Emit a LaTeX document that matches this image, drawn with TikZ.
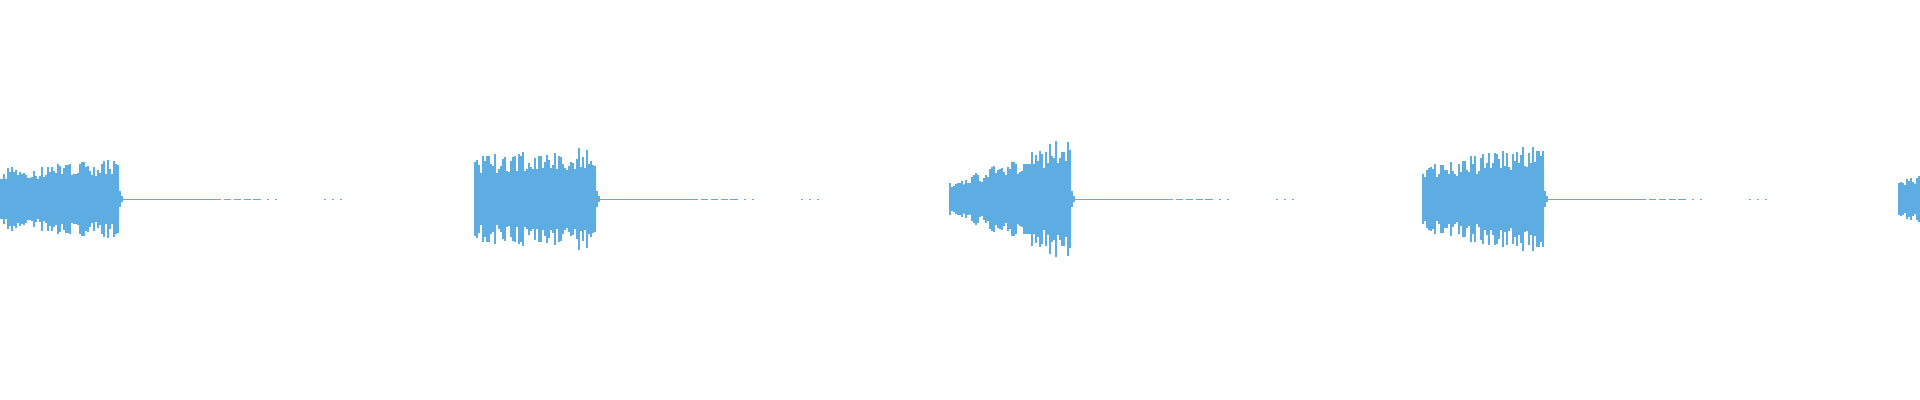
\documentclass[tikz,border=0pt]{standalone}
\usepackage{tikz}
\definecolor{wavecol}{RGB}{93,173,226}
\tikzset{
	wave/.style={wavecol,line width=0.3pt},
	wavetail/.style={wavecol,line width=0.2pt}
}
\begin{document}
\begin{tikzpicture}[x=0.01cm,y=0.01cm]
	\def\mid{201};
	\def\wid{121};
\useasboundingbox (0,0) rectangle (1920,400);
\clip (0,0) rectangle (1920,400);
\pgfmathsetseed{7}

%Bursts: start / amplitude at start / amplitude at end
\foreach \s/\a/\b in {-2/30/38, 475/42/50, 950/16/62, 1423/32/54, 1899/22/26} {
	% solid core
	\fill[wavecol] plot[domain=0:\wid,samples=25] ({\s+\x},{\mid+0.55*(\a+(\b-\a)*\x/\wid)+3*sin(6*\x)})
		-- plot[domain=\wid:0,samples=25] ({\s+\x},{\mid-0.55*(\a+(\b-\a)*\x/\wid)-3*sin(6*\x)}) -- cycle;
	% spikes
	\foreach \i in {0,2,...,120} {
		\pgfmathsetmacro\h{(\a+(\b-\a)*\i/\wid)*(0.6+0.45*rnd)}
		\draw[wave] (\s+\i,\mid-\h) -- (\s+\i,\mid+\h);
	}
	% decay and tail
	\draw[wave] (\s+\wid+1,\mid-8) -- (\s+\wid+1,\mid+8);
	\draw[wave] (\s+\wid+3,\mid-3) -- (\s+\wid+3,\mid+3);
	\draw[wavetail] (\s+\wid+3,\mid) -- (\s+\wid+95,\mid);
	\draw[wavetail,dash pattern=on 2pt off 0.8pt] (\s+\wid+95,\mid) -- (\s+\wid+140,\mid);
	\draw[wavetail,dash pattern=on 0.5pt off 1.8pt] (\s+\wid+140,\mid) -- (\s+\wid+160,\mid);
	\draw[wavetail,dash pattern=on 0.5pt off 1.8pt] (\s+\wid+205,\mid) -- (\s+\wid+225,\mid);
}
\end{tikzpicture}
\end{document}
